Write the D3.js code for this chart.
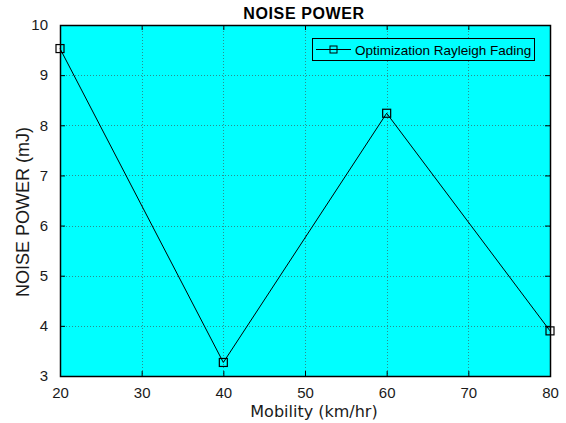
<!DOCTYPE html>
<html>
<head>
<meta charset="utf-8">
<script src="https://cdn.jsdelivr.net/npm/d3@7/dist/d3.min.js"></script>
<style>
  html, body { margin: 0; padding: 0; background: #fff; }
  svg { display: block; font-family: "Liberation Sans", Arial, sans-serif; }
</style>
</head>
<body>
<svg id="chart" width="566" height="423"></svg>
<script>
// Noise power vs. mobility
const mobility = [20, 40, 60, 80];
const noisePower = [9.53, 3.27, 8.24, 3.90];
const xTicks = [20, 30, 40, 50, 60, 70, 80];
const yTicks = [3, 4, 5, 6, 7, 8, 9, 10];
const seriesName = "Optimization Rayleigh Fading";

const svg = d3.select("#chart");
const m = { left: 60, top: 25, right: 550, bottom: 376 };

const x = d3.scaleLinear().domain([20, 80]).range([m.left, m.right]);
const y = d3.scaleLinear().domain([3, 10]).range([m.bottom, m.top]);

// plot background
svg.append("rect")
  .attr("x", m.left).attr("y", m.top)
  .attr("width", m.right - m.left).attr("height", m.bottom - m.top)
  .attr("fill", "#00ffff");

// dotted grid
const grid = svg.append("g").attr("stroke", "#2a8f8f").attr("stroke-width", 1)
  .attr("stroke-dasharray", "1,2");
grid.selectAll("line.gx").data(xTicks.slice(1, -1)).join("line")
  .attr("x1", d => Math.round(x(d)) + 0.5).attr("x2", d => Math.round(x(d)) + 0.5)
  .attr("y1", m.top).attr("y2", m.bottom);
grid.selectAll("line.gy").data(yTicks.slice(1, -1)).join("line")
  .attr("y1", d => Math.round(y(d)) + 0.5).attr("y2", d => Math.round(y(d)) + 0.5)
  .attr("x1", m.left).attr("x2", m.right);

// axes with inward ticks
const tickLen = 5;
const fmt = d3.format("d");
const bottomAxis = d3.axisBottom(x).tickValues(xTicks).tickFormat(fmt).tickSizeInner(-tickLen).tickSizeOuter(0).tickPadding(11);
const leftAxis = d3.axisLeft(y).tickValues(yTicks).tickFormat(fmt).tickSizeInner(-tickLen).tickSizeOuter(0).tickPadding(12);
const topAxis = d3.axisTop(x).tickValues(xTicks).tickSizeInner(-tickLen).tickSizeOuter(0).tickFormat("");
const rightAxis = d3.axisRight(y).tickValues(yTicks).tickSizeInner(-tickLen).tickSizeOuter(0).tickFormat("");

function styleAxis(g) {
  g.select(".domain").remove();
  g.selectAll("line").attr("stroke", "#000");
  g.selectAll("text").attr("fill", "#1a1a1a").style("font-size", "15px")
    .style("font-family", "\"Liberation Sans\", Arial, sans-serif");
}
svg.append("g").attr("transform", `translate(0,${m.bottom})`).call(bottomAxis).call(styleAxis);
svg.append("g").attr("transform", `translate(${m.left},0)`).call(leftAxis).call(styleAxis);
svg.append("g").attr("transform", `translate(0,${m.top})`).call(topAxis).call(styleAxis);
svg.append("g").attr("transform", `translate(${m.right},0)`).call(rightAxis).call(styleAxis);

// frame
svg.append("rect")
  .attr("x", m.left + 0.5).attr("y", m.top + 0.5)
  .attr("width", m.right - m.left).attr("height", m.bottom - m.top)
  .attr("fill", "none").attr("stroke", "#000").attr("stroke-width", 1.5);

// series line and square markers
const pts = mobility.map((d, i) => [d, noisePower[i]]);
svg.append("path")
  .datum(pts)
  .attr("fill", "none").attr("stroke", "#000").attr("stroke-width", 1)
  .attr("d", d3.line().x(d => x(d[0])).y(d => y(d[1])));
svg.selectAll("rect.mk").data(pts).join("rect")
  .attr("class", "mk")
  .attr("x", d => x(d[0]) - 4).attr("y", d => y(d[1]) - 4)
  .attr("width", 8).attr("height", 8)
  .attr("fill", "none").attr("stroke", "#000").attr("stroke-width", 1.2);

// legend
const lg = svg.append("g");
lg.append("rect").attr("x", 312.5).attr("y", 38.5).attr("width", 222).attr("height", 22)
  .attr("fill", "#00ffff").attr("stroke", "#000").attr("stroke-width", 1);
lg.append("line").attr("x1", 316).attr("x2", 351).attr("y1", 49.5).attr("y2", 49.5)
  .attr("stroke", "#000");
lg.append("rect").attr("x", 330).attr("y", 46).attr("width", 7).attr("height", 7)
  .attr("fill", "none").attr("stroke", "#000");
lg.append("text").attr("x", 355).attr("y", 54.5).text(seriesName)
  .style("font-size", "13.5px").attr("fill", "#000");

// title and axis labels
svg.append("text").attr("x", 304).attr("y", 18.5).attr("text-anchor", "middle")
  .style("font-size", "16px").style("font-weight", "bold").style("letter-spacing", "0.6px")
  .text("NOISE POWER");
svg.append("text").attr("x", 314).attr("y", 417).attr("text-anchor", "middle")
  .style("font-size", "16px").style("font-family", "\"DejaVu Sans\", sans-serif")
  .attr("fill", "#1a1a1a").text("Mobility (km/hr)");
svg.append("text").attr("transform", "translate(29,212) rotate(-90)").attr("text-anchor", "middle")
  .style("font-size", "18px").attr("fill", "#1a1a1a").text("NOISE POWER (mJ)");
</script>
</body>
</html>
